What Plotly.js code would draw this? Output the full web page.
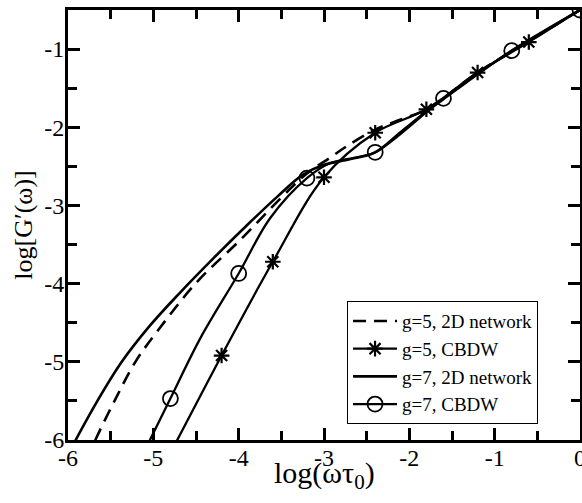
<!DOCTYPE html>
<html>
<head>
<meta charset="utf-8">
<script src="https://cdn.plot.ly/plotly-3.0.1.min.js"></script>
<style>html,body{margin:0;padding:0;background:#fff;}#chart{width:582px;height:503px;}</style>
</head>
<body>
<div id="chart"></div>
<script>
// ---- data (log ωτ0 , log G') ----
const seriesNames = ["g=5, 2D network", "g=5, CBDW", "g=7, 2D network", "g=7, CBDW"];

// g=5, 2D network (dashed)
const g5netX = [-5.78, -5.68, -5.45, -5.21, -4.94, -4.49, -3.98, -3.51, -3.2, -2.93, -2.73, -2.4, -2.1, -1.8, -1.2, -0.6, 0];
const g5netY = [-6.25, -6.0, -5.49, -5.0, -4.59, -3.98, -3.44, -2.91, -2.59, -2.39, -2.24, -2.03, -1.9, -1.77, -1.3, -0.9, -0.5];

// g=5, CBDW (stars)
const g5cbdwX = [-4.84, -4.72, -4.2, -3.6, -3.0, -2.4, -1.8, -1.2, -0.6, 0];
const g5cbdwY = [-6.25, -6.0, -4.92, -3.72, -2.64, -2.07, -1.77, -1.3, -0.91, -0.5];
const g5cbdwMarks = [-4.2, -3.6, -3.0, -2.4, -1.8, -1.2, -0.6];

// g=7, 2D network (solid)
const g7netX = [-6.03, -5.91, -5.65, -5.37, -5.05, -4.7, -4.3, -3.9, -3.55, -3.25, -3.0, -2.7, -2.4, -2.1, -1.8, -1.6, -1.2, -0.8, -0.4, 0];
const g7netY = [-6.25, -6.0, -5.49, -5.0, -4.55, -4.13, -3.68, -3.25, -2.89, -2.61, -2.48, -2.41, -2.32, -2.06, -1.8, -1.64, -1.32, -1.02, -0.76, -0.5];

// g=7, CBDW (circles)
const g7cbdwX = [-5.15, -5.04, -4.8, -4.45, -4.0, -3.63, -3.2, -2.93, -2.65, -2.4, -1.6, -0.8, 0];
const g7cbdwY = [-6.25, -6.0, -5.47, -4.7, -3.87, -3.16, -2.65, -2.46, -2.39, -2.32, -1.63, -1.02, -0.5];
const g7cbdwMarks = [-4.8, -4.0, -3.2, -2.4, -1.6, -0.8, 0];

const xTicks = [-6, -5, -4, -3, -2, -1, 0];
const xTickText = ["-6", "-5", "-4", "-3", "-2", "-1", "0"];
const yTicks = [-6, -5, -4, -3, -2, -1];
const yTickText = ["-6", "-5", "-4", "-3", "-2", "-1"];
const xTitle = "log(ωτ<sub>0</sub>)";
const yTitle = "log[G′(ω)]";

// ---- build traces ----
const FONT = "Liberation Serif";
function markColors(xs, marks) {
  // first point lies below the axis range (clipped); it carries the legend colour
  return xs.map((x, i) => (i === 0 || marks.indexOf(x) >= 0) ? "black" : "rgba(0,0,0,0)");
}

const traces = [
  {
    x: g5netX, y: g5netY, name: seriesNames[0], mode: "lines",
    line: {color: "black", width: 2.6, dash: "13px,8px", shape: "spline"}
  },
  {
    x: g5cbdwX, y: g5cbdwY, name: seriesNames[1], mode: "lines+markers",
    line: {color: "black", width: 2.3, shape: "spline"},
    marker: {symbol: "asterisk-open", size: 13, color: markColors(g5cbdwX, g5cbdwMarks), line: {width: 2.2}}
  },
  {
    x: g7netX, y: g7netY, name: seriesNames[2], mode: "lines",
    line: {color: "black", width: 2.6, shape: "spline"}
  },
  {
    x: g7cbdwX, y: g7cbdwY, name: seriesNames[3], mode: "lines+markers",
    line: {color: "black", width: 2.3, shape: "spline"},
    marker: {symbol: "circle-open", size: 15, color: markColors(g7cbdwX, g7cbdwMarks), line: {width: 1.8}}
  }
];

const axisCommon = {
  showline: true, linecolor: "black", linewidth: 3, mirror: "ticks",
  ticks: "inside", ticklen: 12, tickwidth: 3, tickcolor: "black",
  showgrid: false, zeroline: false, tickmode: "array",
  ticklabeloverflow: "allow",
  tickfont: {family: FONT, size: 24, color: "black"},
  minor: {dtick: 0.5, tick0: 0, ticks: "inside", ticklen: 9, tickwidth: 3, tickcolor: "black", showgrid: false}
};

const layout = {
  width: 582, height: 503,
  margin: {l: 68, r: 2, t: 10, b: 63},
  paper_bgcolor: "white", plot_bgcolor: "white",
  font: {family: FONT, color: "black"},
  showlegend: true,
  xaxis: Object.assign({}, axisCommon, {
    range: [-6, 0], tickvals: xTicks, ticktext: xTickText, ticklabelstandoff: -6
  }),
  yaxis: Object.assign({}, axisCommon, {
    range: [-6, -0.5], tickvals: yTicks, ticktext: yTickText, ticklabelstandoff: -4,
    title: {text: yTitle, font: {family: FONT, size: 26}, standoff: 5}
  }),
  annotations: [{
    text: xTitle, xref: "paper", yref: "paper", x: 0.5, y: -0.082,
    xanchor: "center", yanchor: "middle", showarrow: false,
    font: {family: FONT, size: 30, color: "black"}
  }],
  legend: {
    x: 0.545, y: 0.323, xanchor: "left", yanchor: "top",
    bgcolor: "white", bordercolor: "black", borderwidth: 1,
    font: {family: FONT, size: 19, color: "black"},
    itemwidth: 44, tracegroupgap: 0
  }
};

Plotly.newPlot("chart", traces, layout, {displayModeBar: false, staticPlot: true});
</script>
</body>
</html>
